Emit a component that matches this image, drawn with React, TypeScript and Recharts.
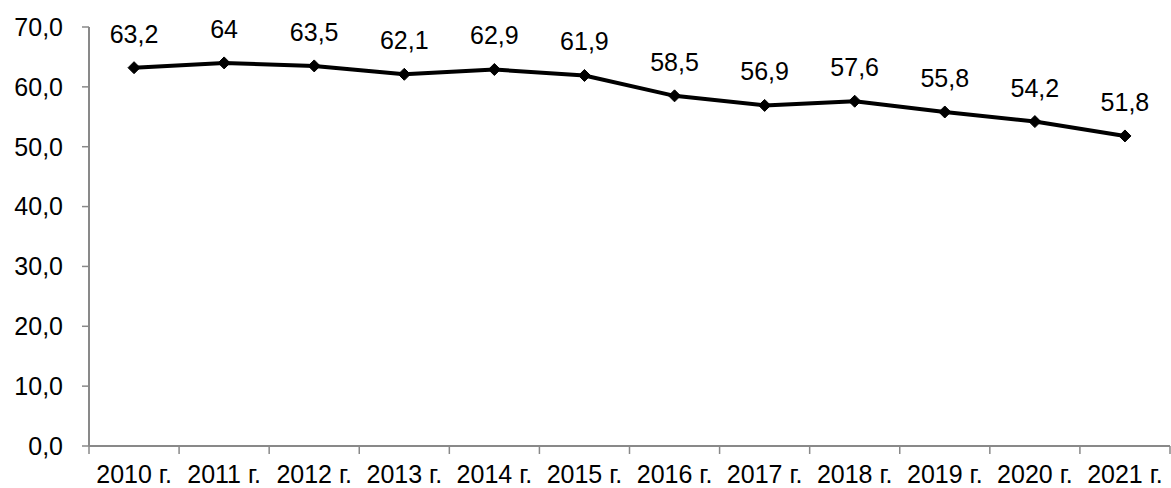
import React from 'react';
import { LineChart, Line, XAxis, YAxis } from 'recharts';

const years = ['2010 г.', '2011 г.', '2012 г.', '2013 г.', '2014 г.', '2015 г.', '2016 г.', '2017 г.', '2018 г.', '2019 г.', '2020 г.', '2021 г.'];
const values = [63.2, 64, 63.5, 62.1, 62.9, 61.9, 58.5, 56.9, 57.6, 55.8, 54.2, 51.8];
const yTicks = [0, 10, 20, 30, 40, 50, 60, 70];

const data = years.map((y, i) => ({ year: y, value: values[i] }));

const FONT = '"Liberation Sans", Arial, sans-serif';
const FS = 25;
const AXIS = '#898989';
const HALF_BAND = 1081 / 12 / 2;

const XTick = (props: any) => {
  const { x, y, payload, index } = props;
  const last = index === years.length - 1;
  return (
    <g>
      <line x1={x - HALF_BAND} y1={y} x2={x - HALF_BAND} y2={y + 8} stroke={AXIS} strokeWidth={1.5} />
      {last && <line x1={x + HALF_BAND} y1={y} x2={x + HALF_BAND} y2={y + 8} stroke={AXIS} strokeWidth={1.5} />}
      <text x={x} y={y + 37} textAnchor="middle" fontSize={FS} fontFamily={FONT} fill="#000">
        {payload.value}
      </text>
    </g>
  );
};

const Diamond = (props: any) => {
  const { cx, cy } = props;
  if (cx == null || cy == null) return null;
  const s = 6;
  return <polygon points={`${cx},${cy - s} ${cx + s},${cy} ${cx},${cy + s} ${cx - s},${cy}`} fill="#000" stroke="#000" strokeWidth={1} />;
};

const ValueLabel = (props: any) => {
  const { x, y, value } = props;
  return (
    <text x={x} y={y - 25} textAnchor="middle" fontSize={FS} fontFamily={FONT} fill="#000">
      {String(value).replace('.', ',')}
    </text>
  );
};

export default function App() {
  return (
    <div style={{ position: 'absolute', left: 0, top: 0, width: 1171, height: 488, background: '#fff' }}>
      <LineChart width={1171} height={488} data={data} margin={{ top: 27, right: 1, bottom: 0, left: 0 }}>
        <XAxis
          dataKey="year"
          height={42}
          tickSize={0}
          tickMargin={0}
          tickLine={false}
          padding={{ left: HALF_BAND, right: HALF_BAND }}
          axisLine={{ stroke: AXIS, strokeWidth: 2 }}
          tick={<XTick />}
          interval={0}
        />
        <YAxis
          width={89}
          domain={[0, 70]}
          ticks={yTicks}
          tickSize={7}
          tickMargin={19}
          axisLine={{ stroke: AXIS, strokeWidth: 2 }}
          tickLine={{ stroke: AXIS, strokeWidth: 1.5 }}
          tickFormatter={(v: number) => v.toFixed(1).replace('.', ',')}
          tick={{ fontSize: FS, fontFamily: FONT, fill: '#000' }}
        />
        <Line
          type="linear"
          dataKey="value"
          stroke="#000"
          strokeWidth={4}
          strokeLinejoin="round"
          dot={<Diamond />}
          activeDot={false}
          label={<ValueLabel />}
          isAnimationActive={false}
        />
      </LineChart>
    </div>
  );
}
